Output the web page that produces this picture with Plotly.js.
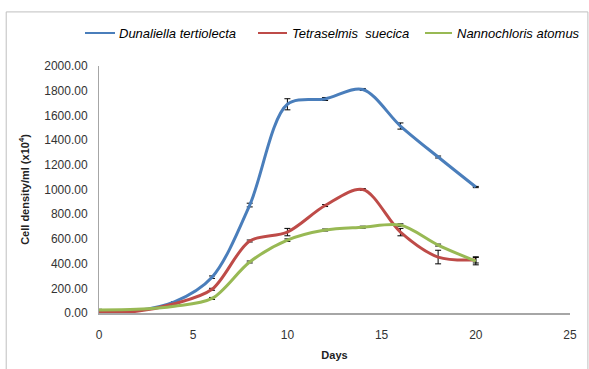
<!DOCTYPE html>
<html><head><meta charset="utf-8">
<script src="https://cdn.plot.ly/plotly-3.0.1.min.js"></script>
<style>body{margin:0;background:#fff}#c{width:589px;height:369px}</style>
</head><body><div id="c"></div>
<script>
var days = [0, 2, 4, 6, 8, 10, 12, 14, 16, 18, 20];
var dunaliella = [15, 20, 90, 290, 874, 1690, 1733, 1810, 1514, 1263, 1020];
var dunaliellaErr = [5, 0, 0, 10, 15, 45, 12, 8, 25, 8, 5];
var tetraselmis = [10, 15, 75, 192, 583, 655, 870, 1000, 655, 453, 430];
var tetraselmisErr = [5, 0, 0, 8, 8, 30, 8, 8, 30, 55, 25];
var nannochloris = [25, 30, 55, 118, 413, 590, 672, 695, 712, 550, 420];
var nannochlorisErr = [5, 0, 0, 8, 8, 10, 8, 8, 10, 8, 30];
var names = ["Dunaliella tertiolecta", "Tetraselmis  suecica", "Nannochloris atomus"];
var colors = ["#4A7EBB", "#BE4B48", "#98B954"];
var series = [dunaliella, tetraselmis, nannochloris];
var errs = [dunaliellaErr, tetraselmisErr, nannochlorisErr];

var traces = series.map(function(s, i){
  return {x: days, y: s, name: names[i], type: 'scatter', mode: 'lines', showlegend: false,
    line: {color: colors[i], width: 3, shape: 'spline', smoothing: 0.9},
    error_y: {type: 'data', array: errs[i], visible: true, color: '#000', thickness: 1, width: 3}};
});

// legend entries (paper coordinates)
var legLineX0 = [-0.0297, 0.3376, 0.6921];
var legLineX1 = [0.0340, 0.3992, 0.7495];
var legTextX = [0.0382, 0.4055, 0.7558];
var legY = 1.1336;

var shapes = [{type: 'rect', xref: 'paper', yref: 'paper', x0: -0.197, x1: 1.038, y0: -0.26, y1: 1.219,
    line: {color: '#BFBFBF', width: 1}}];
var annotations = [];
names.forEach(function(n, i){
  shapes.push({type: 'line', xref: 'paper', yref: 'paper', x0: legLineX0[i], x1: legLineX1[i], y0: legY, y1: legY,
    line: {color: colors[i], width: 2}});
  annotations.push({xref: 'paper', yref: 'paper', x: legTextX[i], y: legY, xanchor: 'left', yanchor: 'middle',
    text: n, showarrow: false,
    font: {size: 13, family: 'Liberation Sans, Arial, sans-serif', color: '#000', style: 'italic'}});
});

var layout = {
  width: 589, height: 369,
  margin: {l: 99, r: 19, t: 66, b: 56, autoexpand: false},
  paper_bgcolor: '#fff', plot_bgcolor: '#fff',
  font: {family: 'Liberation Sans, Arial, sans-serif', color: '#404040'},
  showlegend: false,
  xaxis: {range: [0, 25], tickvals: [0, 5, 10, 15, 20, 25], showgrid: false, zeroline: false,
    showline: true, linecolor: '#A6A6A6', linewidth: 2, ticks: '', ticklabelstandoff: 10,
    tickfont: {size: 12, color: '#333'},
    title: {text: '<b>Days</b>', font: {size: 11, color: '#222'}, standoff: 10}},
  yaxis: {range: [0, 2000], dtick: 200, tickformat: '.2f', showgrid: false, zeroline: false,
    showline: true, linecolor: '#A6A6A6', linewidth: 1, ticks: '', ticklabelstandoff: 8,
    tickfont: {size: 12, color: '#333'},
    title: {text: '<b>Cell density/ml (x10<sup>4</sup>)</b>', font: {size: 11, color: '#222'}, standoff: 12}},
  shapes: shapes,
  annotations: annotations
};
Plotly.newPlot('c', traces, layout, {displayModeBar: false, staticPlot: true});
</script></body></html>
